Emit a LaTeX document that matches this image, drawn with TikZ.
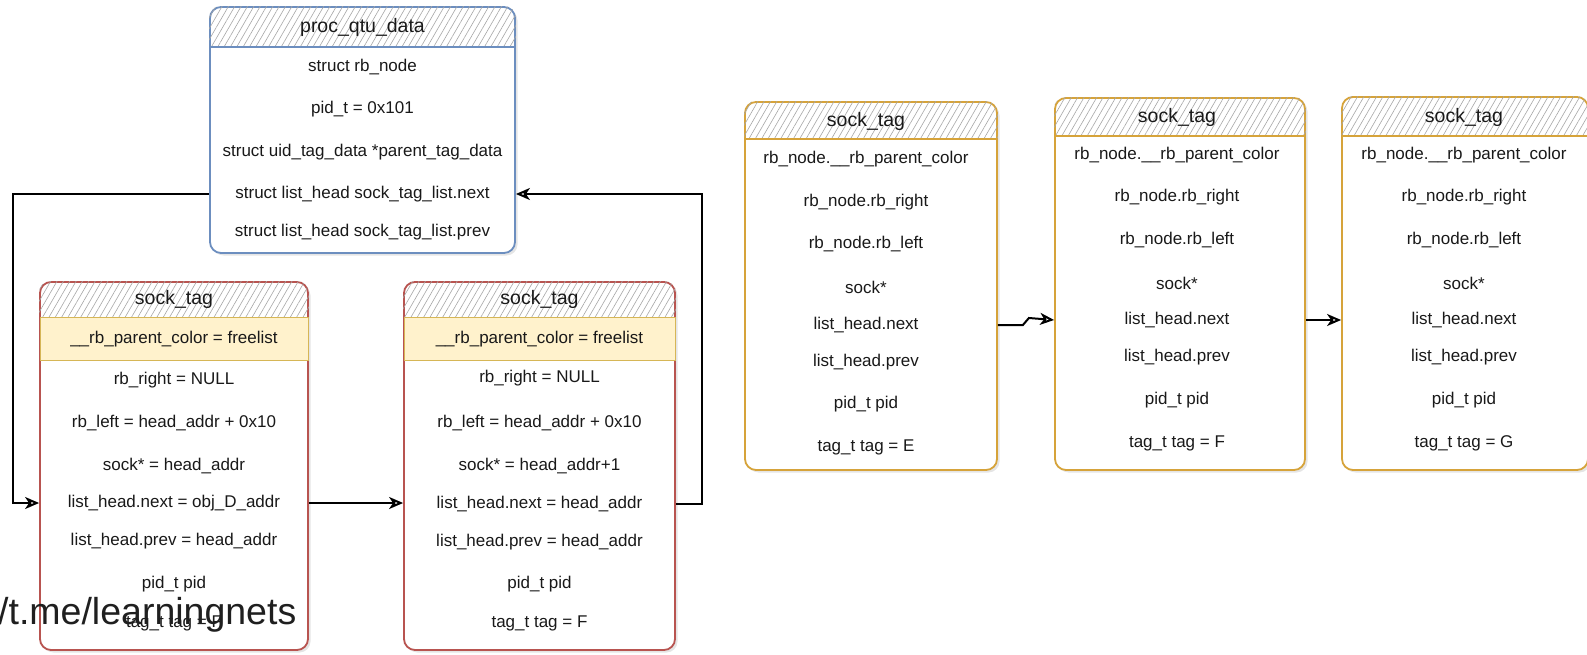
\documentclass[tikz,border=0pt]{standalone}
\usepackage{fontspec}
\setmainfont{Liberation Sans}
\usetikzlibrary{arrows.meta,patterns.meta,positioning,shadows}

\definecolor{qblue}{HTML}{6C8EBF}
\definecolor{tagred}{HTML}{B85450}
\definecolor{taggold}{HTML}{D6A33A}
\definecolor{bandfill}{HTML}{FFF2CC}
\definecolor{bandline}{HTML}{D6B656}

\tikzset{
  box/.style={draw, fill=white, rounded corners=11, line width=1.8pt, inner sep=0pt,
    drop shadow={shadow xshift=2.5pt, shadow yshift=-2.5pt, fill=gray!40}},
  hatch/.style={pattern={Lines[angle=60,distance=5.5pt,line width=0.6pt]}, pattern color=gray!70},
  headtext/.style={font=\fontsize{19.5}{22}\selectfont, text=black!90},
  rowtext/.style={font=\fontsize{17}{20}\selectfont, text=black!90, inner sep=1pt},
  band/.style={fill=bandfill, draw=bandline, line width=1pt, inner sep=0pt},
  link/.style={draw=black, line width=2pt, -{Stealth[open,length=14pt,width=12pt,inset=4pt]}},
}

\begin{document}
\begin{tikzpicture}[x=1pt,y=-1pt]
\useasboundingbox (0,0) rectangle (1587,655);

% proc_qtu_data
\node[box, draw=qblue, minimum width=305, minimum height=246] (pq) at (362.5,130) {};
\begin{scope}
\clip (pq.north west) rectangle ([yshift=-41pt]pq.north east);
\fill[hatch, rounded corners=11] (pq.north west) rectangle (pq.south east);
\end{scope}
\draw[qblue, line width=1.4pt] ([yshift=-41pt]pq.north west) -- ([yshift=-41pt]pq.north east);
\node[headtext] (pqt) at ([yshift=-21pt]pq.north) {proc\_qtu\_data};
\node[rowtext] (pq1) at (362.5,67) {struct rb\_node};
\node[rowtext] (pq2) at (362.5,109) {pid\_t = 0x101};
\node[rowtext] (pq3) at (362.5,152) {struct uid\_tag\_data *parent\_tag\_data};
\node[rowtext] (pq4) at (362.5,194) {struct list\_head sock\_tag\_list.next};
\node[rowtext] (pq5) at (362.5,232) {struct list\_head sock\_tag\_list.prev};

% First freed sock_tag
\node[box, draw=tagred, minimum width=268, minimum height=368] (sta) at (174,466) {};
\begin{scope}
\clip (sta.north west) rectangle ([yshift=-36pt]sta.north east);
\fill[hatch, rounded corners=11] (sta.north west) rectangle (sta.south east);
\end{scope}
\node[headtext] (stat) at ([yshift=-18pt]sta.north) {sock\_tag};
\node[band, minimum width=268, minimum height=43, anchor=north, rowtext] (sta0) at ([yshift=-36pt]sta.north) {\_\_rb\_parent\_color = freelist};
\node[rowtext] (sta1) at (174,380) {rb\_right = NULL};
\node[rowtext] (sta2) at (174,423) {rb\_left = head\_addr + 0x10};
\node[rowtext] (sta3) at (174,466) {sock* = head\_addr};
\node[rowtext] (sta4) at (174,503) {list\_head.next = obj\_D\_addr};
\node[rowtext] (sta5) at (174,541) {list\_head.prev = head\_addr};
\node[rowtext] (sta6) at (174,584) {pid\_t pid};
\node[rowtext] (sta7) at (174,623) {tag\_t tag = F};

% Second freed sock_tag
\node[box, draw=tagred, minimum width=271, minimum height=368] (stb) at (539.5,466) {};
\begin{scope}
\clip (stb.north west) rectangle ([yshift=-36pt]stb.north east);
\fill[hatch, rounded corners=11] (stb.north west) rectangle (stb.south east);
\end{scope}
\node[headtext] (stbt) at ([yshift=-18pt]stb.north) {sock\_tag};
\node[band, minimum width=271, minimum height=43, anchor=north, rowtext] (stb0) at ([yshift=-36pt]stb.north) {\_\_rb\_parent\_color = freelist};
\node[rowtext] (stb1) at (539.5,378) {rb\_right = NULL};
\node[rowtext] (stb2) at (539.5,423) {rb\_left = head\_addr + 0x10};
\node[rowtext] (stb3) at (539.5,466) {sock* = head\_addr+1};
\node[rowtext] (stb4) at (539.5,504) {list\_head.next = head\_addr};
\node[rowtext] (stb5) at (539.5,542) {list\_head.prev = head\_addr};
\node[rowtext] (stb6) at (539.5,584) {pid\_t pid};
\node[rowtext] (stb7) at (539.5,623) {tag\_t tag = F};

% sock_tag E
\node[box, draw=taggold, minimum width=252, minimum height=368] (ste) at (871,286) {};
\begin{scope}
\clip (ste.north west) rectangle ([yshift=-38pt]ste.north east);
\fill[hatch, rounded corners=11] (ste.north west) rectangle (ste.south east);
\end{scope}
\draw[taggold, line width=1.2pt] ([yshift=-38pt]ste.north west) -- ([yshift=-38pt]ste.north east);
\node[headtext] (stet) at (866,121) {sock\_tag};
\node[rowtext] (ste1) at (866,159) {rb\_node.\_\_rb\_parent\_color};
\node[rowtext] (ste2) at (866,202) {rb\_node.rb\_right};
\node[rowtext] (ste3) at (866,244) {rb\_node.rb\_left};
\node[rowtext] (ste4) at (866,287) {sock*};
\node[rowtext] (ste5) at (866,325) {list\_head.next};
\node[rowtext] (ste6) at (866,362) {list\_head.prev};
\node[rowtext] (ste7) at (866,404) {pid\_t pid};
\node[rowtext] (ste8) at (866,447) {tag\_t tag = E};

% sock_tag F
\node[box, draw=taggold, minimum width=250, minimum height=372] (stf) at (1180,284) {};
\begin{scope}
\clip (stf.north west) rectangle ([yshift=-39pt]stf.north east);
\fill[hatch, rounded corners=11] (stf.north west) rectangle (stf.south east);
\end{scope}
\draw[taggold, line width=1.2pt] ([yshift=-39pt]stf.north west) -- ([yshift=-39pt]stf.north east);
\node[headtext] (stft) at (1177,117) {sock\_tag};
\node[rowtext] (stf1) at (1177,155) {rb\_node.\_\_rb\_parent\_color};
\node[rowtext] (stf2) at (1177,197) {rb\_node.rb\_right};
\node[rowtext] (stf3) at (1177,240) {rb\_node.rb\_left};
\node[rowtext] (stf4) at (1177,283) {sock*};
\node[rowtext] (stf5) at (1177,320) {list\_head.next};
\node[rowtext] (stf6) at (1177,357) {list\_head.prev};
\node[rowtext] (stf7) at (1177,400) {pid\_t pid};
\node[rowtext] (stf8) at (1177,443) {tag\_t tag = F};

% sock_tag G
\node[box, draw=taggold, minimum width=246, minimum height=373] (stg) at (1465,283.5) {};
\begin{scope}
\clip (stg.north west) rectangle ([yshift=-40pt]stg.north east);
\fill[hatch, rounded corners=11] (stg.north west) rectangle (stg.south east);
\end{scope}
\draw[taggold, line width=1.2pt] ([yshift=-40pt]stg.north west) -- ([yshift=-40pt]stg.north east);
\node[headtext] (stgt) at (1464,117) {sock\_tag};
\node[rowtext] (stg1) at (1464,155) {rb\_node.\_\_rb\_parent\_color};
\node[rowtext] (stg2) at (1464,197) {rb\_node.rb\_right};
\node[rowtext] (stg3) at (1464,240) {rb\_node.rb\_left};
\node[rowtext] (stg4) at (1464,283) {sock*};
\node[rowtext] (stg5) at (1464,320) {list\_head.next};
\node[rowtext] (stg6) at (1464,357) {list\_head.prev};
\node[rowtext] (stg7) at (1464,400) {pid\_t pid};
\node[rowtext] (stg8) at (1464,443) {tag\_t tag = G};

% Links between the lists
\coordinate (bendl) at (13,350);
\coordinate (bendr) at (702,350);
\draw[link] (pq.west |- pq4) -| (bendl) |- (sta.west |- sta4);
\draw[link] (sta.east |- sta4) -- (stb.west |- sta4);
\draw[link] (stb.east |- stb4) -| (bendr) |- (pq.east |- pq4);
\draw[link] (ste.east |- ste5) -- ++(25,0) -- ++(6,-7) -- (stf.west |- stf5);
\draw[link] (stf.east |- stf5) -- (stg.west |- stf5);

% Watermark
\node[anchor=base west, inner sep=0pt, font=\fontsize{37.5}{40}\selectfont, text=black!88] (wm) at (-2,624) {/t.me/learningnets};
\end{tikzpicture}
\end{document}
